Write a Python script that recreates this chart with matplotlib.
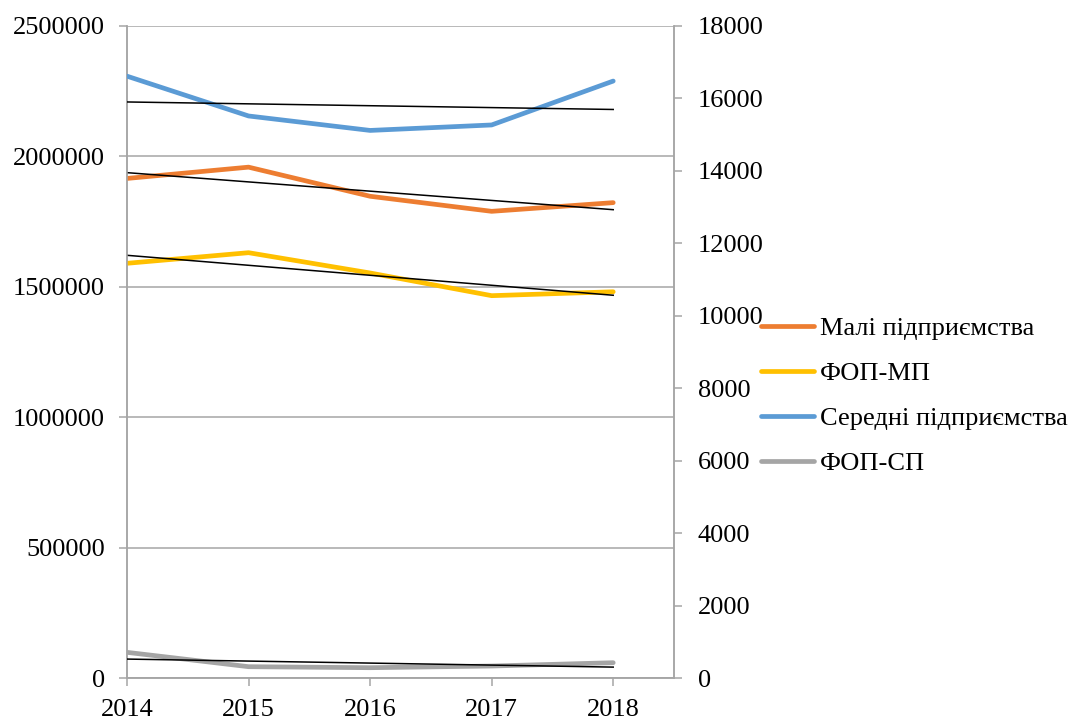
import matplotlib
matplotlib.use('Agg')
from matplotlib import pyplot as plt
import numpy as np

plt.rcParams['font.family'] = ['Liberation Serif', 'DejaVu Serif']

years = [2014, 2015, 2016, 2017, 2018]

# left axis
small = [1915470, 1958787, 1847136, 1789406, 1822671]
fop_small = [1590100, 1630800, 1553000, 1466000, 1481000]

# right axis
medium = [16615, 15516, 15117, 15268, 16480]
fop_medium = [709, 313, 285, 331, 423]

labels = ['Малі підприємства', 'ФОП-МП', 'Середні підприємства', 'ФОП-СП']
colors = ['#ED7D31', '#FFC000', '#5B9BD5', '#A5A5A5']

grid_color = '#A6A6A6'
fs = 19

fig = plt.figure(figsize=(10.7, 7.2), dpi=100)
ax = fig.add_axes([0.1187, 0.0583, 0.5112, 0.9056])
ax2 = ax.twinx()


def trend(axis, ys):
    xs = np.arange(len(years))
    k, b = np.polyfit(xs, ys, 1)
    axis.plot(years, k * xs + b, color='black', lw=1.1, zorder=4)


handles = []
handles += ax.plot(years, small, color=colors[0], lw=3.4, solid_capstyle='round', zorder=3)
handles += ax.plot(years, fop_small, color=colors[1], lw=3.4, solid_capstyle='round', zorder=3)
handles += ax2.plot(years, medium, color=colors[2], lw=3.4, solid_capstyle='round', zorder=3)
handles += ax2.plot(years, fop_medium, color=colors[3], lw=3.4, solid_capstyle='round', zorder=3)

trend(ax, small)
trend(ax, fop_small)
trend(ax2, medium)
trend(ax2, fop_medium)

ax.set_xlim(2014, 2018.5)
ax.set_ylim(0, 2500000)
ax2.set_ylim(0, 18000)
ax.set_xticks(years)
ax.set_yticks(np.arange(0, 2500001, 500000))
ax.set_yticklabels([str(v) for v in range(0, 2500001, 500000)])
ax2.set_yticks(np.arange(0, 18001, 2000))

ax.grid(axis='y', color=grid_color, lw=1.1)
ax.set_axisbelow(True)

for a in (ax, ax2):
    for side in ('left', 'right', 'bottom'):
        a.spines[side].set_color(grid_color)
        a.spines[side].set_linewidth(1.1)
    a.spines['top'].set_visible(False)
    a.tick_params(colors=grid_color, labelcolor='black', length=6, width=1.1,
                  labelsize=fs)
ax.tick_params(axis='y', pad=10)
ax.tick_params(axis='x', pad=9)
ax2.tick_params(axis='y', pad=11)

fig.legend(handles, labels, loc='center left', bbox_to_anchor=(0.711, 0.45),
           frameon=False, fontsize=fs, handlelength=2.0, handletextpad=0.25,
           labelspacing=0.82, borderpad=0, borderaxespad=0)

fig.savefig('out.png', dpi=100)
